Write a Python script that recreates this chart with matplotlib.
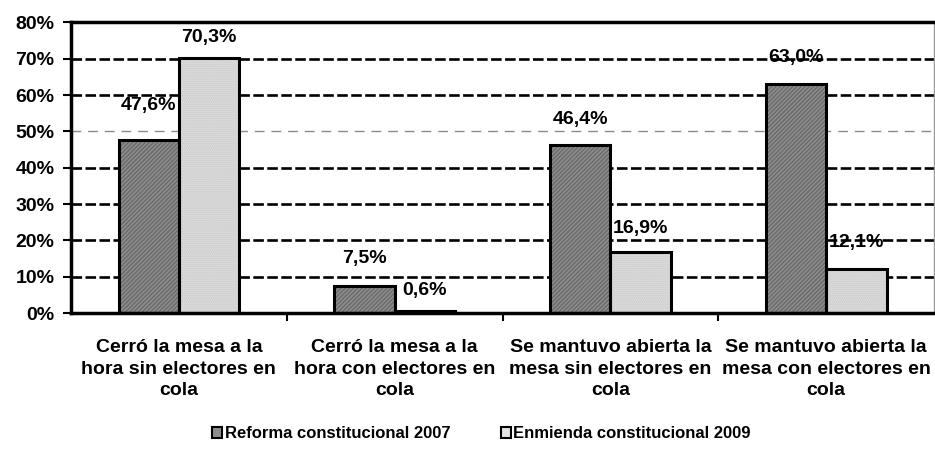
import numpy as np
import matplotlib.pyplot as plt
from matplotlib.patches import Patch


CATEGORIAS = [
    "Cerró la mesa a la\nhora sin electores en\ncola",
    "Cerró la mesa a la\nhora con electores en\ncola",
    "Se mantuvo abierta la\nmesa sin electores en\ncola",
    "Se mantuvo abierta la\nmesa con electores en\ncola",
]
REFORMA_2007 = [47.6, 7.5, 46.4, 63.0]
ENMIENDA_2009 = [70.3, 0.6, 16.9, 12.1]
SERIES = ["Reforma constitucional 2007", "Enmienda constitucional 2009"]
Y_TICKS = [0, 10, 20, 30, 40, 50, 60, 70, 80]

# subida de cada etiqueta sobre su barra (como quedaron en el original)
LIFT_2007 = [9.5, 7.6, 6.9, 7.3]
LIFT_2009 = [5.5, 5.7, 6.5, 7.4]

plt.rcParams["font.family"] = ["Liberation Sans", "DejaVu Sans"]
plt.rcParams["font.weight"] = "bold"

fig = plt.figure(figsize=(9.35, 4.59), dpi=100)
ax = fig.add_axes([0.076, 0.318, 0.923, 0.633])

x = np.arange(len(CATEGORIAS))
width = 0.28

# rejilla
for t in Y_TICKS[1:-1]:
    if t == 50:
        ax.axhline(t, color="#8a8a8a", linewidth=1.0,
                   linestyle=(0, (7, 5)), zorder=1)
    else:
        ax.axhline(t, color="black", linewidth=1.9,
                   linestyle=(0, (4, 1.3)), zorder=1)

estilos = [
    dict(face="#8e8e8e", hatch="////////", hcolor="#6a6a6a"),
    dict(face="#e4e4e4", hatch="........", hcolor="#c4c4c4"),
]
for vals, off, est in zip([REFORMA_2007, ENMIENDA_2009], [-width / 2, width / 2], estilos):
    ax.bar(x + off, vals, width, color=est["face"], hatch=est["hatch"],
           edgecolor=est["hcolor"], linewidth=0, zorder=2)
    ax.bar(x + off, vals, width, fill=False, edgecolor="black",
           linewidth=2.2, zorder=3)

for vals, off, lifts in zip([REFORMA_2007, ENMIENDA_2009], [-width / 2, width / 2],
                            [LIFT_2007, LIFT_2009]):
    for xi, v, lift in zip(x, vals, lifts):
        ax.text(xi + off, v + lift, f"{v:.1f}%".replace(".", ","),
                ha="center", va="center", fontsize=14,
                fontweight="bold", zorder=4)

ax.set_xlim(-0.5, len(CATEGORIAS) - 0.5)
ax.set_ylim(0, 80)
ax.set_yticks(Y_TICKS)
ax.set_yticklabels([f"{t}%" for t in Y_TICKS], fontsize=14, fontweight="bold")
ax.tick_params(axis="y", length=6, width=1.5, pad=6)

ax.set_xticks(x)
ax.set_xticklabels(CATEGORIAS, fontsize=14, fontweight="bold",
                   linespacing=1.32)
ax.tick_params(axis="x", which="major", length=0, pad=19)
ax.set_xticks(x[:-1] + 0.5, minor=True)
ax.tick_params(axis="x", which="minor", length=6, width=1.5)

for side in ["left", "bottom", "top"]:
    ax.spines[side].set_linewidth(2.5)
ax.spines["right"].set_color("#9a9a9a")
ax.spines["right"].set_linewidth(1.0)

handles = [
    Patch(facecolor="#8e8e8e", edgecolor="black", linewidth=1.5),
    Patch(facecolor="#e4e4e4", edgecolor="black", linewidth=1.5),
]
fig.legend(handles, SERIES, loc="center", bbox_to_anchor=(0.515, 0.055),
           ncol=2, frameon=False, handlelength=0.6, handleheight=0.6,
           handletextpad=0.15, columnspacing=3.0,
           prop={"size": 12, "weight": "bold"})

fig.savefig("out.png", dpi=100)
